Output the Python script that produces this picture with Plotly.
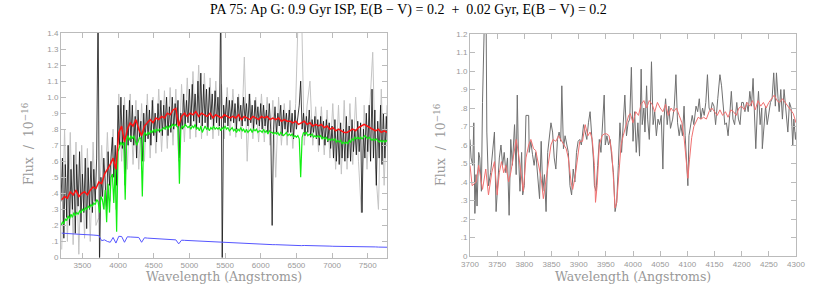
import plotly.graph_objects as go

# ---------------- LEFT PANEL DATA ----------------
# observed spectrum (black), sampled every 20 A from 3200 A
obs_start, obs_step = 3200, 20
obs_flux = [
    0.35, 0.62, 0.12, 0.58, 0.25, 0.70, 0.20, 0.55, 0.30, 0.64,
    0.15, 0.58, 0.32, 0.66, 0.22, 0.52, 0.28, 0.62, 0.18, 0.56,
    0.30, 0.60, 0.28, 0.55, 0.35, 0.62, 1.60, -0.05, 0.50, 0.38,
    0.62, 0.45, 0.30, 0.66, 0.45, 0.62, 0.75, 0.50, 0.70, 0.45,
    0.95, 0.70, 1.00, 0.68, 0.95, 0.45, 0.92, 0.70, 0.98, 0.72,
    0.95, 0.70, 0.88, 0.62, 0.92, 0.75, 0.85, 0.60, 0.90, 0.72,
    0.95, 0.74, 0.92, 0.70, 0.98, 0.76, 0.90, 0.72, 0.96, 0.78,
    0.98, 0.76, 0.95, 0.80, 1.00, 0.76, 0.94, 0.78, 1.00, 0.80,
    0.96, 0.82, 0.98, 0.62, 0.90, 0.80, 1.02, 0.82, 0.98, 0.84,
    1.05, 0.82, 1.08, 0.85, 1.02, 0.80, 1.10, 0.84, 1.15, 0.82,
    1.08, 0.84, 1.05, 0.80, 1.06, 0.86, 1.02, 0.82, 1.04, 0.84,
    1.00, 0.82, 1.60, -0.05, 0.95, 0.84, 1.00, 0.82, 0.98, 0.85,
    0.98, 0.84, 0.96, 0.80, 1.00, 0.85, 0.95, 0.82, 1.00, 0.85,
    0.96, 0.82, 1.02, 0.84, 0.95, 0.80, 0.98, 0.83, 0.94, 0.82,
    0.96, 0.80, 0.95, 0.82, 0.92, 0.78, 0.96, 0.80, 0.20, 0.80,
    0.94, 0.78, 0.90, 0.82, 0.95, 0.76, 0.92, 0.80, 0.90, 0.78,
    0.92, 0.78, 0.90, 0.74, 0.92, 0.80, 0.88, 0.95, 1.10, 0.80,
    0.90, 0.76, 0.88, 0.78, 0.92, 0.75, 0.86, 0.78, 0.88, 0.74,
    0.86, 0.70, 0.88, 0.74, 0.85, 0.70, 0.86, 0.72, 0.84, 0.68,
    0.82, 0.62, 0.86, 0.60, 0.80, 0.58, 0.84, 0.62, 0.80, 0.60,
    0.88, 0.62, 0.82, 0.60, 0.86, 0.66, 0.80, 0.64, 0.85, 0.66,
    0.84, 0.28, 0.80, 0.62, 0.90, 0.66, 0.95, 0.60, 1.05, 0.62,
    0.92, 0.45, 0.85, 0.62, 0.95, 0.58, 0.90, 0.62, 0.88, 0.65,
]

# 0.9 Gyr component (green), same 20 A sampling
old_flux = [
    0.20, 0.22, 0.21, 0.24, 0.23, 0.26, 0.24, 0.27, 0.25, 0.28,
    0.26, 0.28, 0.27, 0.29, 0.28, 0.30, 0.29, 0.31, 0.30, 0.32,
    0.31, 0.33, 0.32, 0.34, 0.33, 0.36, 0.35, 0.28, 0.38, 0.36,
    0.30, 0.42, 0.22, 0.46, 0.28, 0.50, 0.52, 0.34, 0.56, 0.16,
    0.66, 0.70, 0.72, 0.70, 0.72, 0.36, 0.74, 0.76, 0.73, 0.76,
    0.74, 0.76, 0.73, 0.70, 0.72, 0.75, 0.74, 0.38, 0.76, 0.78,
    0.76, 0.78, 0.77, 0.79, 0.78, 0.80, 0.78, 0.80, 0.79, 0.80,
    0.79, 0.80, 0.81, 0.80, 0.82, 0.80, 0.82, 0.81, 0.83, 0.82,
    0.83, 0.82, 0.81, 0.46, 0.80, 0.82, 0.81, 0.83, 0.82, 0.81,
    0.82, 0.80, 0.82, 0.81, 0.83, 0.80, 0.81, 0.79, 0.82, 0.78,
    0.80, 0.82, 0.80, 0.81, 0.79, 0.81, 0.80, 0.82, 0.80, 0.81,
    0.80, 0.81, 0.79, 0.81, 0.80, 0.82, 0.80, 0.81, 0.79, 0.80,
    0.81, 0.79, 0.80, 0.78, 0.80, 0.79, 0.81, 0.79, 0.80, 0.78,
    0.80, 0.78, 0.79, 0.80, 0.78, 0.80, 0.79, 0.80, 0.78, 0.79,
    0.79, 0.78, 0.80, 0.78, 0.79, 0.77, 0.79, 0.78, 0.78, 0.77,
    0.78, 0.77, 0.78, 0.76, 0.78, 0.77, 0.76, 0.77, 0.78, 0.76,
    0.77, 0.76, 0.77, 0.75, 0.76, 0.75, 0.76, 0.74, 0.50, 0.75,
    0.78, 0.77, 0.78, 0.76, 0.77, 0.76, 0.77, 0.75, 0.76, 0.75,
    0.76, 0.75, 0.76, 0.74, 0.75, 0.74, 0.75, 0.73, 0.74, 0.73,
    0.74, 0.73, 0.74, 0.72, 0.73, 0.72, 0.73, 0.71, 0.72, 0.71,
    0.72, 0.71, 0.73, 0.72, 0.74, 0.73, 0.75, 0.74, 0.75, 0.74,
    0.75, 0.74, 0.75, 0.76, 0.75, 0.74, 0.75, 0.74, 0.73, 0.74,
    0.73, 0.74, 0.73, 0.72, 0.73, 0.72, 0.73, 0.72, 0.73, 0.72,
]

# second (grey) spectrum, red model, blue young component: every 40 A from 3210 A
coarse_start, coarse_step = 3210, 40
grey_flux = [
    0.05, 0.80, 0.10, 0.78, 0.08, 0.72, 0.02, 0.70, 0.12, 0.68,
    0.10, 0.72, 0.20, 0.25, 0.70, 0.30, 0.78, 0.35, 0.80, 0.30,
    1.02, 0.60, 1.00, 0.55, 1.02, 0.58, 0.98, 0.55, 0.96, 0.60,
    1.02, 0.62, 1.00, 0.65, 1.05, 0.66, 1.04, 0.68, 1.06, 0.70,
    1.05, 0.60, 1.08, 0.72, 1.12, 0.74, 1.16, 0.75, 1.20, 0.74,
    1.15, 0.76, 1.12, 0.74, 1.10, 0.76, 1.08, 0.74, 1.06, 0.76,
    1.05, 0.75, 1.02, 0.74, 1.25, 0.60, 1.02, 0.74, 1.00, 0.72,
    1.02, 0.72, 1.00, 0.70, 0.98, 0.50, 1.00, 0.70, 0.96, 0.70,
    0.98, 0.68, 0.96, 1.60, 1.60, 0.70, 0.95, 1.10, 0.70, 0.94,
    0.66, 0.94, 0.64, 0.92, 0.62, 0.96, 0.55, 0.95, 0.52, 0.98,
    0.55, 0.96, 0.58, 1.00, 0.60, 0.28, 0.95, 0.55, 0.95, 1.28,
    0.55, 0.30, 1.05, 0.45, 0.95,
]
model_flux = [
    0.36, 0.38, 0.37, 0.41, 0.39, 0.42, 0.38, 0.40, 0.41, 0.39,
    0.42, 0.44, 0.43, 0.47, 0.46, 0.52, 0.55, 0.58, 0.62, 0.55,
    0.78, 0.82, 0.72, 0.80, 0.84, 0.82, 0.86, 0.80, 0.76, 0.82,
    0.84, 0.86, 0.84, 0.87, 0.86, 0.88, 0.87, 0.90, 0.89, 0.92,
    0.93, 0.82, 0.88, 0.90, 0.88, 0.90, 0.89, 0.91, 0.88, 0.90,
    0.89, 0.88, 0.90, 0.87, 0.89, 0.88, 0.87, 0.89, 0.88, 0.87,
    0.88, 0.87, 0.89, 0.86, 0.88, 0.87, 0.86, 0.88, 0.87, 0.86,
    0.88, 0.87, 0.88, 0.86, 0.87, 0.86, 0.87, 0.85, 0.86, 0.85,
    0.85, 0.84, 0.85, 0.83, 0.84, 0.85, 0.83, 0.84, 0.82, 0.83,
    0.82, 0.83, 0.81, 0.82, 0.80, 0.81, 0.79, 0.80, 0.79, 0.78,
    0.78, 0.79, 0.80, 0.79, 0.81, 0.82, 0.83, 0.82, 0.81, 0.80,
    0.79, 0.80, 0.78, 0.79, 0.78,
]
young_flux = [
    0.152, 0.150, 0.149, 0.147, 0.148, 0.146, 0.145, 0.143, 0.144, 0.142,
    0.141, 0.140, 0.138, 0.137, 0.105, 0.110, 0.100, 0.095, 0.125, 0.090,
    0.132, 0.131, 0.095, 0.129, 0.128, 0.127, 0.126, 0.125, 0.095, 0.123,
    0.121, 0.120, 0.119, 0.117, 0.116, 0.115, 0.114, 0.113, 0.112, 0.111,
    0.110, 0.085, 0.108, 0.107, 0.106, 0.105, 0.104, 0.103, 0.102, 0.101,
    0.100, 0.099, 0.098, 0.097, 0.096, 0.095, 0.094, 0.093, 0.092, 0.091,
    0.090, 0.090, 0.089, 0.088, 0.087, 0.086, 0.086, 0.085, 0.084, 0.084,
    0.083, 0.082, 0.082, 0.081, 0.080, 0.080, 0.079, 0.078, 0.078, 0.077,
    0.077, 0.076, 0.076, 0.072, 0.074, 0.075, 0.075, 0.074, 0.074, 0.073,
    0.073, 0.072, 0.072, 0.071, 0.071, 0.070, 0.070, 0.070, 0.069, 0.069,
    0.069, 0.068, 0.068, 0.068, 0.067, 0.067, 0.067, 0.066, 0.066, 0.066,
    0.066, 0.065, 0.065, 0.065, 0.064,
]

# ---------------- RIGHT PANEL DATA (zoom 3700-4300 A) ----------------
zoom_wl = [
    3700, 3702, 3705, 3707, 3709, 3711, 3713, 3716, 3718, 3721,
    3723, 3725, 3729, 3731, 3734, 3738, 3742, 3745, 3748, 3751,
    3754, 3757, 3760, 3763, 3766, 3769, 3772, 3775, 3778, 3782,
    3785, 3787, 3789, 3792, 3795, 3797, 3800, 3803, 3808, 3809,
    3812, 3815, 3818, 3821, 3825, 3828, 3831, 3834, 3837, 3840,
    3843, 3846, 3849, 3852, 3855, 3858, 3861, 3864, 3867, 3869,
    3872, 3875, 3878, 3881, 3884, 3887, 3890, 3893, 3896, 3899,
    3902, 3905, 3909, 3912, 3915, 3918, 3921, 3924, 3927, 3929,
    3932, 3935, 3938, 3941, 3944, 3947, 3949, 3952, 3955, 3958,
    3961, 3964, 3967, 3970, 3973, 3976, 3979, 3982, 3985, 3988,
    3991, 3994, 3997, 4000, 4003, 4006, 4009, 4012, 4015, 4017,
    4020, 4022, 4025, 4027, 4030, 4032, 4034, 4037, 4040, 4043,
    4046, 4049, 4052, 4055, 4057, 4060, 4063, 4066, 4069, 4073,
    4076, 4079, 4082, 4085, 4088, 4091, 4094, 4096, 4099, 4101,
    4103, 4106, 4109, 4112, 4116, 4119, 4122, 4125, 4128, 4131,
    4134, 4137, 4140, 4143, 4146, 4149, 4152, 4156, 4160, 4163,
    4166, 4169, 4172, 4175, 4178, 4181, 4184, 4187, 4191, 4194,
    4197, 4200, 4203, 4206, 4209, 4212, 4215, 4218, 4221, 4224,
    4226, 4229, 4231, 4234, 4237, 4238, 4241, 4244, 4247, 4250,
    4253, 4256, 4259, 4262, 4264, 4267, 4269, 4272, 4275, 4278,
    4282, 4285, 4288, 4291, 4294, 4296, 4299, 4300,
]
zoom_flux = [
    0.63, 0.53, 0.49, 0.72, 0.23, 0.44, 0.27, 0.56, 0.53, 0.35,
    0.83, 1.60, 1.60, 0.67, 0.38, 0.45, 0.58, 0.67, 0.24, 0.38,
    0.53, 0.60, 0.49, 0.56, 0.45, 0.53, 0.22, 0.63, 0.49, 0.71,
    0.44, 0.87, 0.56, 0.35, 0.56, 0.33, 0.38, 0.76, 0.76, 0.56,
    0.62, 0.55, 0.49, 0.56, 0.42, 0.31, 0.62, 0.35, 0.44, 0.24,
    0.56, 0.63, 0.72, 0.67, 0.53, 0.47, 0.63, 0.67, 0.62, 0.92,
    0.58, 0.65, 0.60, 0.56, 0.38, 0.33, 0.47, 0.40, 0.56, 0.62,
    0.63, 0.60, 0.71, 0.67, 0.63, 0.72, 0.78, 0.65, 0.53, 0.38,
    0.35, 0.49, 0.63, 0.56, 0.71, 0.87, 0.60, 0.65, 0.60, 0.63,
    0.53, 0.45, 0.24, 0.29, 0.49, 0.72, 0.56, 0.69, 0.87, 0.65,
    0.72, 0.74, 1.02, 0.62, 0.78, 0.56, 0.72, 0.54, 1.01, 0.71,
    0.80, 0.67, 0.92, 0.74, 0.63, 0.80, 1.05, 0.71, 0.78, 0.65,
    0.74, 0.71, 0.76, 0.47, 0.74, 0.85, 0.71, 0.81, 0.69, 0.74,
    0.81, 0.98, 0.72, 0.65, 0.71, 0.65, 0.81, 0.65, 0.49, 0.38,
    0.65, 0.71, 0.76, 0.71, 0.81, 0.78, 0.85, 0.74, 0.80, 0.76,
    0.83, 0.98, 0.80, 0.78, 0.83, 0.81, 0.71, 0.85, 0.98, 0.92,
    0.80, 0.71, 0.72, 0.65, 0.76, 0.89, 0.74, 0.71, 0.83, 0.74,
    0.71, 0.83, 0.83, 0.78, 0.83, 0.78, 0.89, 0.81, 0.96, 0.78,
    0.58, 0.80, 0.89, 0.71, 0.80, 0.58, 0.72, 0.81, 0.71, 0.78,
    0.83, 0.85, 0.99, 0.81, 0.99, 0.85, 0.78, 0.90, 0.74, 0.90,
    0.78, 0.67, 0.83, 0.80, 0.60, 0.74, 0.63, 0.67,
]
zoom_model_wl = [
    3700, 3704, 3711, 3716, 3723, 3729, 3734, 3740, 3745, 3750,
    3754, 3758, 3762, 3766, 3771, 3775, 3780, 3785, 3789, 3794,
    3798, 3803, 3808, 3812, 3817, 3821, 3826, 3831, 3835, 3840,
    3845, 3849, 3853, 3858, 3863, 3867, 3872, 3877, 3881, 3886,
    3889, 3894, 3898, 3902, 3907, 3912, 3917, 3921, 3925, 3929,
    3931, 3934, 3938, 3943, 3947, 3952, 3956, 3961, 3964, 3967,
    3970, 3974, 3978, 3982, 3987, 3992, 3995, 4000, 4005, 4010,
    4015, 4020, 4025, 4030, 4035, 4040, 4045, 4050, 4055, 4060,
    4065, 4070, 4075, 4080, 4085, 4090, 4094, 4098, 4101, 4104,
    4108, 4112, 4116, 4120, 4125, 4130, 4135, 4140, 4145, 4150,
    4155, 4160, 4165, 4170, 4175, 4180, 4185, 4190, 4195, 4200,
    4205, 4210, 4215, 4220, 4225, 4230, 4235, 4240, 4245, 4250,
    4255, 4260, 4265, 4270, 4275, 4280, 4285, 4290, 4295, 4300,
]
zoom_model_flux = [
    0.49, 0.38, 0.40, 0.49, 0.36, 0.47, 0.33, 0.45, 0.51, 0.33,
    0.45, 0.51, 0.45, 0.49, 0.40, 0.45, 0.54, 0.63, 0.56, 0.45,
    0.35, 0.53, 0.60, 0.63, 0.58, 0.57, 0.49, 0.42, 0.31, 0.42,
    0.54, 0.60, 0.63, 0.62, 0.65, 0.63, 0.61, 0.58, 0.53, 0.40,
    0.36, 0.44, 0.53, 0.62, 0.62, 0.71, 0.65, 0.67, 0.63, 0.49,
    0.29, 0.38, 0.60, 0.65, 0.66, 0.66, 0.65, 0.56, 0.42, 0.26,
    0.29, 0.45, 0.60, 0.65, 0.71, 0.76, 0.77, 0.72, 0.78, 0.76,
    0.82, 0.84, 0.80, 0.84, 0.82, 0.78, 0.83, 0.80, 0.78, 0.82,
    0.76, 0.80, 0.78, 0.80, 0.76, 0.72, 0.64, 0.52, 0.42, 0.52,
    0.64, 0.70, 0.73, 0.75, 0.74, 0.75, 0.74, 0.78, 0.80, 0.78,
    0.76, 0.79, 0.76, 0.78, 0.75, 0.79, 0.78, 0.76, 0.80, 0.81,
    0.79, 0.83, 0.81, 0.84, 0.79, 0.84, 0.81, 0.83, 0.80, 0.83,
    0.85, 0.87, 0.84, 0.83, 0.85, 0.83, 0.81, 0.79, 0.77, 0.72,
]

left_xticks = [3500, 4000, 4500, 5000, 5500, 6000, 6500, 7000, 7500]
right_xticks = [3700, 3750, 3800, 3850, 3900, 3950, 4000, 4050, 4100, 4150, 4200, 4250, 4300]
left_yticks = [0, 0.1, 0.2, 0.3, 0.4, 0.5, 0.6, 0.7, 0.8, 0.9, 1.0, 1.1, 1.2, 1.3, 1.4]
left_yticktext = ["0", ".1", ".2", ".3", ".4", ".5", ".6", ".7", ".8", ".9", "1.0", "1.1", "1.2", "1.3", "1.4"]
right_yticks = left_yticks[:13]
right_yticktext = left_yticktext[:13]

title_text = "PA 75: Ap G: 0.9 Gyr ISP, E(B \u2212 V) = 0.2  +  0.02 Gyr, E(B \u2212 V) = 0.2"

# wavelength grids
obs_wl = [obs_start + obs_step * i for i in range(len(obs_flux))]
old_wl = [obs_start + obs_step * i for i in range(len(old_flux))]
grey_wl = [coarse_start + coarse_step * i for i in range(len(grey_flux))]
model_wl = [coarse_start + coarse_step * i for i in range(len(model_flux))]
young_wl = [coarse_start + coarse_step * i for i in range(len(young_flux))]
zn = min(len(zoom_wl), len(zoom_flux))
zm = min(len(zoom_model_wl), len(zoom_model_flux))

fig = go.Figure()
fig.add_trace(go.Scatter(x=grey_wl, y=grey_flux, mode="lines", line=dict(color="#c4c4c4", width=1), xaxis="x", yaxis="y"))
fig.add_trace(go.Scatter(x=obs_wl, y=obs_flux, mode="lines", line=dict(color="#111111", width=0.8), xaxis="x", yaxis="y"))
fig.add_trace(go.Scatter(x=old_wl, y=old_flux, mode="lines", line=dict(color="#11ee11", width=1.2), xaxis="x", yaxis="y"))
fig.add_trace(go.Scatter(x=model_wl, y=model_flux, mode="lines", line=dict(color="#ff1111", width=1.5), xaxis="x", yaxis="y"))
fig.add_trace(go.Scatter(x=young_wl, y=young_flux, mode="lines", line=dict(color="#5555ff", width=1), xaxis="x", yaxis="y"))

fig.add_trace(go.Scatter(x=zoom_wl[:zn], y=zoom_flux[:zn], mode="lines", line=dict(color="#707070", width=1), xaxis="x2", yaxis="y2"))
fig.add_trace(go.Scatter(x=zoom_model_wl[:zm], y=zoom_model_flux[:zm], mode="lines", line=dict(color="#f07070", width=1), xaxis="x2", yaxis="y2"))

W, H = 817, 286


def px(xp):
    return xp / W


def py(yp):
    return 1 - yp / H


axis_common = dict(showgrid=False, zeroline=False, showline=True, linecolor="#bbbbbb", linewidth=1,
                   mirror="ticks", ticks="inside", ticklen=5, tickcolor="#bbbbbb", tickwidth=1,
                   automargin=False,
                   tickfont=dict(family="Liberation Sans", size=8, color="#999999"))

fig.update_layout(
    width=W, height=H, margin=dict(l=0, r=0, t=0, b=0, autoexpand=False),
    paper_bgcolor="white", plot_bgcolor="white", showlegend=False, hovermode=False,
    xaxis=dict(domain=[px(61), px(387)], range=[3200, 7770], anchor="y", tickvals=left_xticks, **axis_common),
    yaxis=dict(domain=[py(257.5), py(33)], range=[0, 1.4], anchor="x", tickvals=left_yticks,
               ticktext=left_yticktext, **axis_common),
    xaxis2=dict(domain=[px(470), px(796)], range=[3700, 4300], anchor="y2", tickvals=right_xticks, **axis_common),
    yaxis2=dict(domain=[py(256), py(34)], range=[0, 1.2], anchor="x2", tickvals=right_yticks,
                ticktext=right_yticktext, **axis_common),
)

label_font = dict(family="DejaVu Serif", size=12.5, color="#999999")
annots = [
    dict(text=title_text, x=px(408), y=py(10), font=dict(family="Liberation Serif", size=14, color="black")),
    dict(text="Wavelength (Angstroms)", x=px(224), y=py(276), font=label_font),
    dict(text="Wavelength (Angstroms)", x=px(633), y=py(276), font=label_font),
    dict(text="Flux  /  10<sup>\u221216</sup>", x=px(28), y=py(143), textangle=-90, font=label_font),
    dict(text="Flux  /  10<sup>\u221216</sup>", x=px(440), y=py(145), textangle=-90, font=label_font),
]
for a in annots:
    fig.add_annotation(xref="paper", yref="paper", showarrow=False, xanchor="center", yanchor="middle", **a)

# remove the browser's default 8 px page margin so the 817x286 figure fills the window
fig.write_html("out.html", config={"displayModeBar": False, "staticPlot": True},
               post_script="document.body.style.margin='0';document.body.style.overflow='hidden';")
